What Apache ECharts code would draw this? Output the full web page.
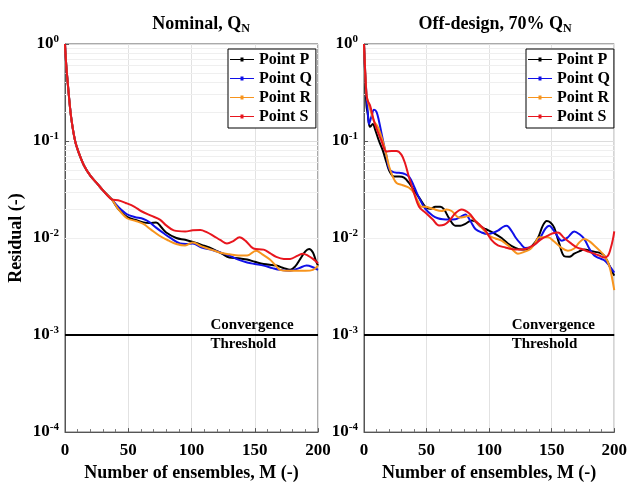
<!DOCTYPE html>
<html><head><meta charset="utf-8">
<script src="https://cdn.jsdelivr.net/npm/echarts@6/dist/echarts.min.js"></script>
<style>html,body{margin:0;padding:0;background:#fff}#c{width:630px;height:487px}</style>
</head><body><div id="c"></div>
<script>
// ---------- data (M, residual) ----------
const seriesNames = ['Point P', 'Point Q', 'Point R', 'Point S'];
const xTicks = [0, 50, 100, 150, 200];
const threshold = 1e-3;
const panelTitles = ['Nominal, Q', 'Off-design, 70% Q'];

const nomHead = [[0,1],[1,0.6],[2,0.42],[3,0.3],[5,0.17],[8,0.1],[11,0.075],[15,0.056],[20,0.044],[25,0.037],[30,0.031],[37,0.025]];
const nomP = [[42,0.02],[49,0.0165],[55,0.0155],[62,0.0145],[67,0.0143],[72,0.0145],[76,0.013],[80,0.0114],[88,0.01],[95,0.0096],[101,0.0091],[108,0.0085],[117,0.0077],[124,0.0069],[130,0.0063],[137,0.0062],[144,0.006],[150,0.0057],[157,0.0054],[167,0.0052],[173,0.0049],[178,0.0047],[182,0.0051],[186,0.0061],[190,0.0073],[193,0.0077],[196,0.0071],[198,0.006],[200,0.0052]];
const nomQ = [[42,0.021],[49,0.0176],[55,0.0165],[62,0.0157],[67,0.0145],[72,0.0128],[78,0.0112],[83,0.0101],[91,0.0088],[96,0.0087],[101,0.0088],[108,0.008],[117,0.0075],[124,0.007],[130,0.0066],[137,0.006],[144,0.0056],[150,0.0054],[157,0.0052],[164,0.0049],[170,0.0047],[178,0.0046],[185,0.0049],[191,0.0052],[196,0.005],[200,0.0047]];
const nomR = [[42,0.02],[49,0.016],[56,0.015],[62,0.014],[68,0.0122],[75,0.0105],[82,0.0094],[88,0.0087],[95,0.0084],[101,0.009],[108,0.0082],[117,0.0075],[124,0.007],[130,0.0068],[137,0.0066],[144,0.0066],[151,0.0074],[156,0.0068],[162,0.006],[166,0.0053],[170,0.0047],[176,0.0046],[183,0.0046],[190,0.0046],[196,0.0047],[200,0.0052]];
const nomS = [[42,0.0245],[48,0.023],[55,0.021],[60,0.019],[68,0.017],[75,0.0155],[80,0.0135],[86,0.012],[95,0.0117],[101,0.012],[107,0.0121],[112,0.0115],[117,0.0106],[123,0.0095],[128,0.0088],[133,0.0093],[138,0.0102],[143,0.0093],[149,0.0078],[157,0.0076],[162,0.007],[167,0.0064],[173,0.0061],[178,0.0061],[184,0.0066],[188,0.0069],[192,0.0066],[196,0.0061],[200,0.0055]];

const offP = [[0,1],[1,0.45],[2,0.23],[3,0.19],[4,0.15],[5,0.14],[7,0.15],[9,0.13],[12,0.1],[15,0.08],[18,0.06],[20,0.05],[24,0.043],[28,0.043],[32,0.042],[36,0.037],[40,0.031],[45,0.025],[49,0.021],[53,0.02],[57,0.021],[61,0.021],[64,0.0197],[68,0.016],[73,0.0134],[77,0.0134],[81,0.014],[86,0.0152],[89,0.0148],[93,0.0132],[97,0.0124],[103,0.0114],[110,0.01],[115,0.0088],[121,0.0079],[126,0.0076],[131,0.0077],[135,0.0085],[139,0.01],[143,0.0135],[146,0.015],[149,0.0145],[152,0.0128],[156,0.0088],[160,0.0065],[164,0.0064],[168,0.0069],[172,0.0073],[176,0.0076],[182,0.0073],[189,0.007],[192,0.0066],[195,0.0056],[198,0.0046],[200,0.0041]];
const offQ = [[0,1],[1,0.5],[2,0.3],[3,0.2],[4,0.15],[6,0.18],[8,0.21],[10,0.2],[12,0.16],[14,0.12],[16,0.09],[18,0.07],[20,0.052],[23,0.048],[28,0.047],[32,0.046],[36,0.043],[40,0.034],[44,0.026],[49,0.02],[55,0.017],[59,0.016],[63,0.0156],[68,0.0155],[73,0.0156],[77,0.0165],[81,0.0175],[85,0.015],[89,0.0124],[94,0.0114],[99,0.011],[103,0.0113],[107,0.0119],[111,0.013],[114,0.0134],[118,0.0118],[121,0.0102],[125,0.0088],[129,0.0079],[133,0.008],[137,0.0087],[141,0.0102],[145,0.0125],[148,0.0134],[152,0.0118],[158,0.0094],[163,0.0102],[168,0.0117],[172,0.011],[176,0.0098],[180,0.0078],[184,0.0066],[188,0.0062],[192,0.0059],[196,0.0052],[200,0.0044]];
const offR = [[0,1],[1,0.5],[2,0.3],[3,0.26],[5,0.21],[8,0.16],[11,0.14],[14,0.11],[17,0.08],[20,0.055],[23,0.043],[26,0.037],[31,0.035],[36,0.033],[40,0.029],[43,0.024],[46,0.021],[49,0.021],[55,0.02],[62,0.019],[66,0.0197],[70,0.019],[76,0.0163],[80,0.0165],[84,0.017],[89,0.015],[94,0.0128],[100,0.0106],[105,0.0099],[110,0.0094],[116,0.0082],[120,0.0073],[123,0.0069],[128,0.0072],[133,0.0077],[137,0.009],[140,0.0102],[147,0.0102],[152,0.0092],[158,0.0079],[163,0.0074],[168,0.0078],[172,0.009],[176,0.0098],[180,0.0093],[184,0.0084],[188,0.0075],[192,0.0066],[196,0.0052],[200,0.0029]];
const offS = [[0,1],[1,0.5],[2,0.3],[3,0.26],[5,0.23],[8,0.16],[11,0.125],[14,0.1],[18,0.078],[22,0.079],[26,0.079],[30,0.072],[33,0.058],[36,0.042],[40,0.029],[44,0.021],[49,0.0183],[55,0.0155],[60,0.0135],[64,0.0137],[68,0.015],[73,0.018],[78,0.0197],[84,0.018],[89,0.015],[93,0.0135],[97,0.012],[102,0.0095],[107,0.0084],[113,0.008],[118,0.0077],[124,0.0076],[129,0.0077],[133,0.0081],[137,0.0087],[142,0.0098],[147,0.0106],[151,0.0112],[155,0.0114],[160,0.01],[166,0.0087],[170,0.008],[174,0.0077],[180,0.0072],[184,0.0069],[188,0.0066],[192,0.0063],[195,0.0066],[197,0.0077],[199,0.0098],[200,0.0117]];

const colors = ['#000000', '#1010e8', '#f7941d', '#e8161e'];

// ---------- chart ----------
const FONT = 'Liberation Serif';
const chart = echarts.init(document.getElementById('c'));
const grids = [
  {left: 65, right: 312, top: 44, bottom: 53},
  {left: 364, right: 13, top: 44, bottom: 53}
];
const minorVals = [];
for (let d = -4; d <= -1; d++) for (let k = 2; k <= 9; k++) minorVals.push(k * Math.pow(10, d));

function yLabel(v) {
  const e = Math.round(Math.log10(v));
  return '{b|10}{s|' + e + '}';
}
const yRich = {
  b: {fontFamily: FONT, fontWeight: 'bold', fontSize: 17, color: '#000'},
  s: {fontFamily: FONT, fontWeight: 'bold', fontSize: 11, color: '#000', padding: [0, 0, 10, 0]}
};
const legendIcon = 'path://M0,4.4H10.5V3H13.5V4.4H24V5.6H13.5V7H10.5V5.6H0Z';

const xAxes = [], yAxes = [], series = [], titles = [], legends = [];
const panelData = [[nomHead.concat(nomP), nomHead.concat(nomQ), nomHead.concat(nomR), nomHead.concat(nomS)], [offP, offQ, offR, offS]];
const labelM = [115, 118];
const titleX = [196, 490];
const legendX = [228, 526];

grids.forEach((g, i) => {
  xAxes.push({
    gridIndex: i, type: 'value', min: xTicks[0], max: xTicks[xTicks.length - 1], interval: 50,
    axisLine: {show: true, lineStyle: {color: '#555'}},
    axisTick: {show: true, inside: true, length: 4, lineStyle: {color: '#555'}},
    minorTick: {show: true, splitNumber: 5, length: 3, lineStyle: {color: '#777'}},
    splitLine: {show: true, lineStyle: {color: '#e2e2e2', width: 1}},
    axisLabel: {fontFamily: FONT, fontWeight: 'bold', fontSize: 17, color: '#000', margin: 10},
    name: 'Number of ensembles, M (-)', nameLocation: 'middle', nameGap: 30,
    nameTextStyle: {fontFamily: FONT, fontWeight: 'bold', fontSize: 18, color: '#000'}
  });
  yAxes.push({
    gridIndex: i, type: 'log', min: 1e-4, max: 1, logBase: 10,
    axisLine: {show: true, lineStyle: {color: '#555'}},
    axisTick: {show: true, inside: true, length: 4, lineStyle: {color: '#555'}},
    splitLine: {show: true, lineStyle: {color: '#dcdcdc', width: 1}},
    axisLabel: {formatter: yLabel, rich: yRich, margin: 6},
    name: i === 0 ? 'Residual (-)' : '', nameLocation: 'middle', nameGap: 40,
    nameTextStyle: {fontFamily: FONT, fontWeight: 'bold', fontSize: 18, color: '#000'}
  });
  titles.push({
    text: '{a|' + panelTitles[i] + '}{b|N}', left: titleX[i], top: 8, textAlign: 'center',
    textStyle: {rich: {
      a: {fontFamily: FONT, fontWeight: 'bold', fontSize: 18, color: '#000'},
      b: {fontFamily: FONT, fontWeight: 'bold', fontSize: 12, color: '#000', padding: [10, 0, 0, 0]}
    }}
  });
  legends.push({
    data: seriesNames, orient: 'vertical', left: legendX[i], top: 49, z: 20,
    icon: legendIcon,
    backgroundColor: '#fff', borderColor: '#000', borderWidth: 1, borderRadius: 0,
    padding: [2, 4, 3, 2], itemGap: 2, itemWidth: 24, itemHeight: 10,
    textStyle: {fontFamily: FONT, fontWeight: 'bold', fontSize: 16, color: '#000', lineHeight: 17}
  });
  // minor grid lines
  series.push({
    type: 'line', xAxisIndex: i, yAxisIndex: i, data: [], silent: true, z: 1,
    markLine: {silent: true, symbol: 'none', label: {show: false}, z: 1,
      lineStyle: {color: '#efefef', width: 1, type: 'solid'},
      data: minorVals.map(v => ({yAxis: v}))}
  });
  // threshold line
  series.push({
    type: 'line', xAxisIndex: i, yAxisIndex: i, silent: true, symbol: 'none', z: 3,
    lineStyle: {color: '#000', width: 2},
    data: [[xTicks[0], threshold], [xTicks[xTicks.length - 1], threshold]]
  });
  series.push({
    type: 'scatter', xAxisIndex: i, yAxisIndex: i, silent: true, symbolSize: 0, z: 4,
    itemStyle: {opacity: 1},
    data: [[labelM[i], threshold]],
    label: {show: true, position: 'right', distance: 0, formatter: 'Convergence\nThreshold', opacity: 1,
      fontFamily: FONT, fontWeight: 'bold', fontSize: 15, lineHeight: 19, color: '#000'}
  });
  panelData[i].forEach((d, k) => {
    series.push({
      name: seriesNames[k], type: 'line', xAxisIndex: i, yAxisIndex: i,
      data: d, smooth: 0.35, symbol: 'none', showSymbol: false,
      color: colors[k], itemStyle: {color: colors[k]}, lineStyle: {width: 2, color: colors[k]}, z: 5
    });
  });
});

chart.setOption({
  animation: false,
  backgroundColor: '#fff',
  title: titles,
  legend: legends,
  grid: grids.map(g => Object.assign({show: true, borderColor: '#555', borderWidth: 1, backgroundColor: 'transparent'}, g)),
  xAxis: xAxes,
  yAxis: yAxes,
  series: series
});
</script></body></html>
